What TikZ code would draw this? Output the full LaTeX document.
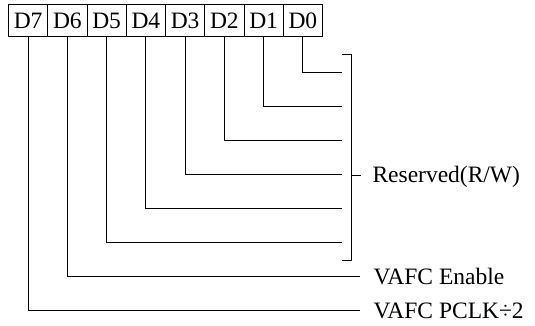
\documentclass[tikz,border=0pt]{standalone}
\usepackage{fontspec}
\setmainfont{Liberation Serif}
\begin{document}
\begin{tikzpicture}[x=1pt,y=-1pt,line width=1pt,
  cell/.style={draw,minimum width=39.25pt,minimum height=32pt,inner sep=0pt,anchor=north west,font=\fontsize{23.5}{28}\selectfont},
  lbl/.style={anchor=base west,inner sep=0pt,font=\fontsize{23.5}{28}\selectfont},
  wire/.style={draw,line width=1pt}]
\useasboundingbox (0,0) rectangle (535,325);
% register cells
\foreach \k/\n in {0/7,1/6,2/5,3/4,4/3,5/2,6/1,7/0}{
  \node[cell] (d\n) at ({8+39.25*\k},4) {D\n};
}
% end points
\foreach \n in {0,...,5}{
  \coordinate (e\n) at (342,{72+34.14*\n});
}
\coordinate (e6) at (360,{72+34.14*6});
\coordinate (e7) at (360,{72+34.14*7});
\foreach \n in {0,...,7}{
  \draw[wire] (d\n.south) |- (e\n);
}
% bracket
\coordinate (bt) at (351,54);
\coordinate (bb) at (351,260);
\coordinate (bm) at (351,175);
\coordinate (bl) at (361,175);
\draw[wire] (342,54) -- (bt) -- (bb) -- (342,260);
\draw[wire] (bm) -- (bl);
% labels
\node[lbl] (r) at (372,182.8) {Reserved(R/W)};
\node[lbl] (en) at (373,284.7) {VAFC Enable};
\node[lbl] (pc) at (373,318.8) {VAFC PCLK÷2};
\end{tikzpicture}
\end{document}
